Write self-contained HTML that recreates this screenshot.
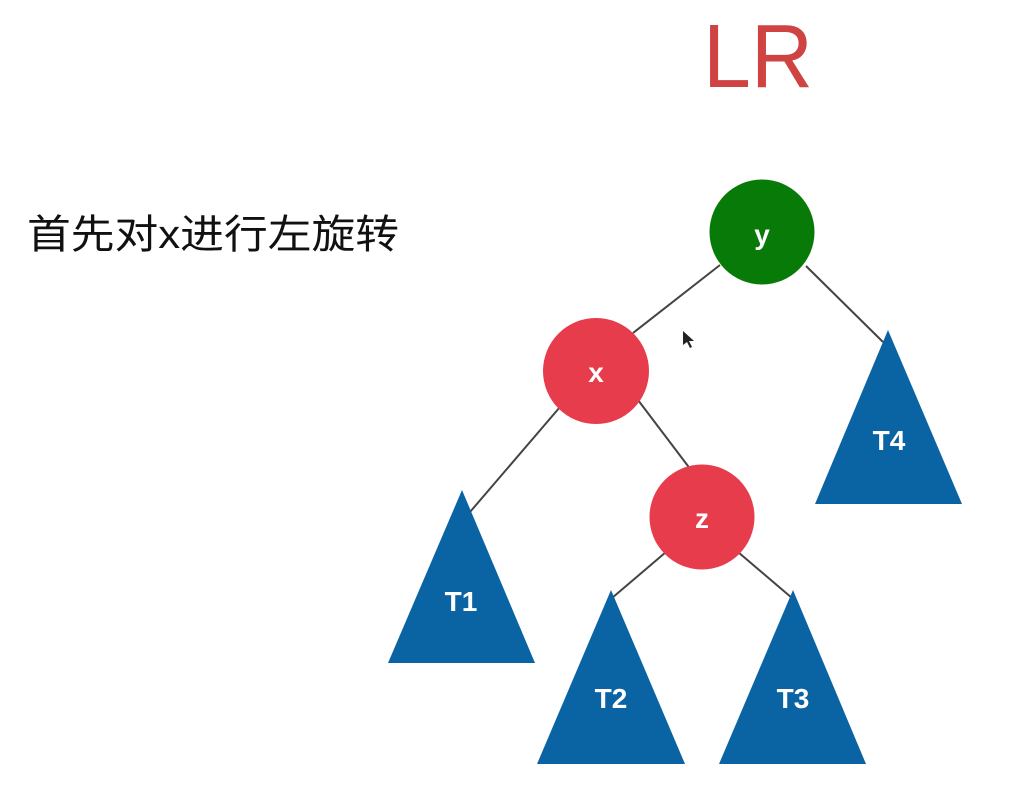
<!DOCTYPE html>
<html><head><meta charset="utf-8"><style>
html,body{margin:0;padding:0;background:#fff;}
body{width:1018px;height:797px;overflow:hidden;position:relative;}
</style></head><body>
<svg width="1018" height="797" viewBox="0 0 1018 797" xmlns="http://www.w3.org/2000/svg">
<text x="703" y="87" font-family="Liberation Sans, sans-serif" font-size="90" fill="#cf4343" textLength="110" lengthAdjust="spacingAndGlyphs">LR</text>
<text x="27" y="248" font-family="Liberation Sans, 'Noto Sans CJK SC', sans-serif" font-size="40" fill="#111" textLength="372" lengthAdjust="spacingAndGlyphs">首先对x进行左旋转</text>
<g stroke="#444" stroke-width="2">
<line x1="720" y1="265" x2="633" y2="333"/>
<line x1="806" y1="266" x2="883" y2="342"/>
<line x1="560" y1="407" x2="470" y2="512"/>
<line x1="638" y1="400" x2="691" y2="470"/>
<line x1="666" y1="552" x2="612" y2="598"/>
<line x1="738" y1="552" x2="792" y2="598"/>
</g>
<g fill="#0a63a3">
<polygon points="462,490 535,663 388,663"/>
<polygon points="611,590 685,764 537,764"/>
<polygon points="793,590 866,764 719,764"/>
<polygon points="888,330 962,504 815,504"/>
</g>
<circle cx="762" cy="232" r="52.5" fill="#087a08"/>
<circle cx="596" cy="371" r="53" fill="#e63c4c"/>
<circle cx="702" cy="517" r="52.5" fill="#e63c4c"/>
<g font-family="Liberation Sans, sans-serif" font-weight="bold" font-size="28" fill="#fff" text-anchor="middle">
<text x="762" y="244">y</text>
<text x="596" y="382">x</text>
<text x="702" y="528">z</text>
<text x="461" y="611">T1</text>
<text x="611" y="708">T2</text>
<text x="793" y="708">T3</text>
<text x="889" y="450">T4</text>
</g>
<polygon points="683,331 683,345 687,342 690,348 692,347 689,341 694,341" fill="#222"/>
</svg>
</body></html>
